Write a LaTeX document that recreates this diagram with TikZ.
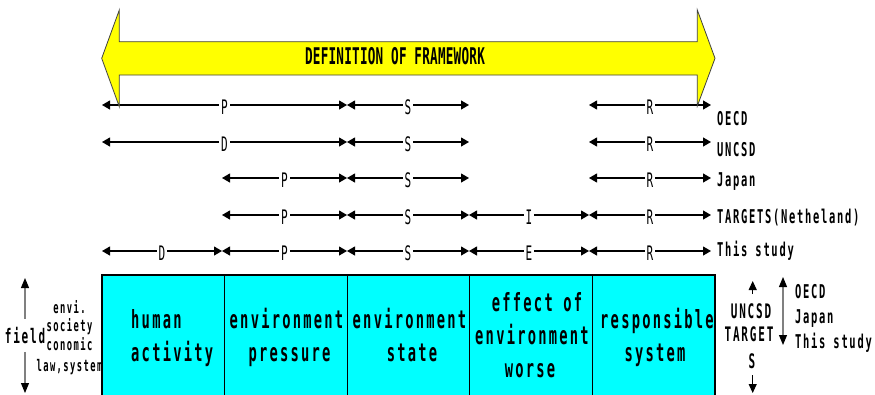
\documentclass[tikz,border=0pt]{standalone}
\usepackage{fontspec}
\usetikzlibrary{arrows.meta}
\newfontfamily\cf{DejaVu Sans Mono}[FakeStretch=0.55,LetterSpace=9]
\newfontfamily\cfd{DejaVu Sans Mono}[FakeStretch=0.55,LetterSpace=1]
\newfontfamily\cft{DejaVu Sans Mono}[FakeStretch=0.55]
\definecolor{boxcyan}{RGB}{0,255,255}
\definecolor{arryellow}{RGB}{255,255,0}
\begin{document}
\begin{tikzpicture}[x=1pt,y=-1pt,
  tipk/.style={Triangle[length=8pt,width=9pt,color=black]},
  seg/.style={{Triangle[length=8pt,width=9pt]}-{Triangle[length=8pt,width=9pt]}, line width=1.1pt, black},
  lab/.style={fill=white, inner xsep=2pt, inner ysep=0pt, yshift=-2pt, font=\cft\fontsize{20}{20}\selectfont},
  rowlab/.style={anchor=base west, inner sep=0pt, font=\cf\bfseries\fontsize{19}{19}\selectfont},
  box/.style={draw=black, line width=1.2pt, fill=boxcyan, minimum width=122.6pt, minimum height=122pt, inner sep=0pt},
  bt/.style={anchor=base, inner sep=0pt, font=\cf\bfseries\fontsize{25}{25}\selectfont},
  smallt/.style={anchor=base, inner sep=0pt, font=\cf\bfseries\fontsize{16}{16}\selectfont},
  sidet/.style={anchor=base, inner sep=0pt, font=\cf\bfseries\fontsize{20}{20}\selectfont},
  gline/.style={line width=1.1pt, gray},
  gtip/.style={-{Triangle[length=10pt,width=8pt,color=black]}, gline},
  gdbl/.style={{Triangle[length=10pt,width=8pt,color=black]}-{Triangle[length=10pt,width=8pt,color=black]}, gline},
  ktip/.style={-{Triangle[length=9pt,width=8pt]}, line width=1.1pt, black}
]
\useasboundingbox (0,0) rectangle (875,394);

% grid of segment boundaries
\foreach \r/\yy in {1/105,2/142,3/178,4/215,5/251}{
  \foreach \c/\xx in {0/102,1/222,2/347,3/469,4/589,5/711}{
    \coordinate (r\r c\c) at (\xx,\yy);
  }
}

% row 1 OECD
\draw[seg] (r1c0) -- node[lab]{P} (r1c2);
\draw[seg] (r1c2) -- node[lab]{S} (r1c3);
\draw[seg] (r1c4) -- node[lab]{R} (r1c5);
% row 2 UNCSD
\draw[seg] (r2c0) -- node[lab]{D} (r2c2);
\draw[seg] (r2c2) -- node[lab]{S} (r2c3);
\draw[seg] (r2c4) -- node[lab]{R} (r2c5);
% row 3 Japan
\draw[seg] (r3c1) -- node[lab]{P} (r3c2);
\draw[seg] (r3c2) -- node[lab]{S} (r3c3);
\draw[seg] (r3c4) -- node[lab]{R} (r3c5);
% row 4 TARGETS
\draw[seg] (r4c1) -- node[lab]{P} (r4c2);
\draw[seg] (r4c2) -- node[lab]{S} (r4c3);
\draw[seg] (r4c3) -- node[lab]{I} (r4c4);
\draw[seg] (r4c4) -- node[lab]{R} (r4c5);
% row 5 This study
\draw[seg] (r5c0) -- node[lab]{D} (r5c1);
\draw[seg] (r5c1) -- node[lab]{P} (r5c2);
\draw[seg] (r5c2) -- node[lab]{S} (r5c3);
\draw[seg] (r5c3) -- node[lab]{E} (r5c4);
\draw[seg] (r5c4) -- node[lab]{R} (r5c5);

% row labels
\node[rowlab] (lOECD) at (717,125) {OECD};
\node[rowlab] (lUNCSD) at (717,156.7) {UNCSD};
\node[rowlab] (lJapan) at (717,186.7) {Japan};
\node[rowlab] (lTARGETS) at (717,223.3) {TARGETS(Netheland)};
\node[rowlab] (lThis) at (717,256.7) {This study};

% big yellow double arrow
\draw[draw=black!75, line width=0.8pt, fill=arryellow]
  (101.7,58.3) -- (119.3,10) -- (119.3,41.7) -- (697.3,41.7) -- (697.3,10)
  -- (715,58.3) -- (697.3,106) -- (697.3,75) -- (119.3,75) -- (119.3,106.7) -- cycle;
\node[inner sep=0pt, font=\cfd\bfseries\fontsize{23}{23}\selectfont] (def) at (395,56.5) {DEFINITION OF FRAMEWORK};

% left labels
\node[smallt] (envi) at (69.5,313) {envi.};
\node[smallt] (soc) at (69.5,331.7) {society};
\node[smallt] (eco) at (69.5,350) {conomic};
\node[smallt] (law) at (69.5,371.7) {law,system};
\node[sidet, inner xsep=0pt, inner ysep=8pt] (field) at (25,343.3) {field};
\coordinate (ft) at (25,278);
\coordinate (fb) at (25,393);
\draw[gtip] (field.north) -- (ft);
\draw[gtip] (field.south) -- (fb);

% boxes
\node[box] (b1) at (163.3,336) {};
\node[box] (b2) at (285.9,336) {};
\node[box] (b3) at (408.5,336) {};
\node[box] (b4) at (531.1,336) {};
\node[box] (b5) at (653.7,336) {};

\node[bt, anchor=base west] (t1a) at (131,328) {human};
\node[bt, anchor=base west] (t1b) at (131,361) {activity};
\node[bt] (t2a) at (286.5,328) {environment};
\node[bt] (t2b) at (289.5,361) {pressure};
\node[bt] (t3a) at (409.5,328) {environment};
\node[bt] (t3b) at (412,361) {state};
\node[bt] (t4a) at (537,311) {effect of};
\node[bt] (t4b) at (532,344) {environment};
\node[bt] (t4c) at (530,377) {worse};
\node[bt] (t5a) at (657,328) {responsible};
\node[bt] (t5b) at (655,361) {system};

% right side
\node[sidet] (uncsd) at (751,318.3) {UNCSD};
\node[sidet] (target) at (749,341.7) {TARGET};
\node[sidet] (tS) at (752,368.3) {S};
\coordinate (ub) at (752.7,294);
\coordinate (ut) at (752.7,281);
\coordinate (db) at (752.7,375);
\coordinate (dt) at (752.7,393);
\draw[ktip] (ub) -- (ut);
\draw[ktip] (db) -- (dt);

\coordinate (oa) at (783,277);
\coordinate (ob) at (783,345);
\draw[gdbl] (oa) -- (ob);
\node[anchor=base west, inner sep=0pt, font=\cf\bfseries\fontsize{19}{19}\selectfont] (rOECD) at (795,298.3) {OECD};
\node[anchor=base west, inner sep=0pt, font=\cf\bfseries\fontsize{19}{19}\selectfont] (rJapan) at (795,323.3) {Japan};
\node[anchor=base west, inner sep=0pt, font=\cf\bfseries\fontsize{19}{19}\selectfont] (rThis) at (795,348.3) {This study};
\end{tikzpicture}
\end{document}
